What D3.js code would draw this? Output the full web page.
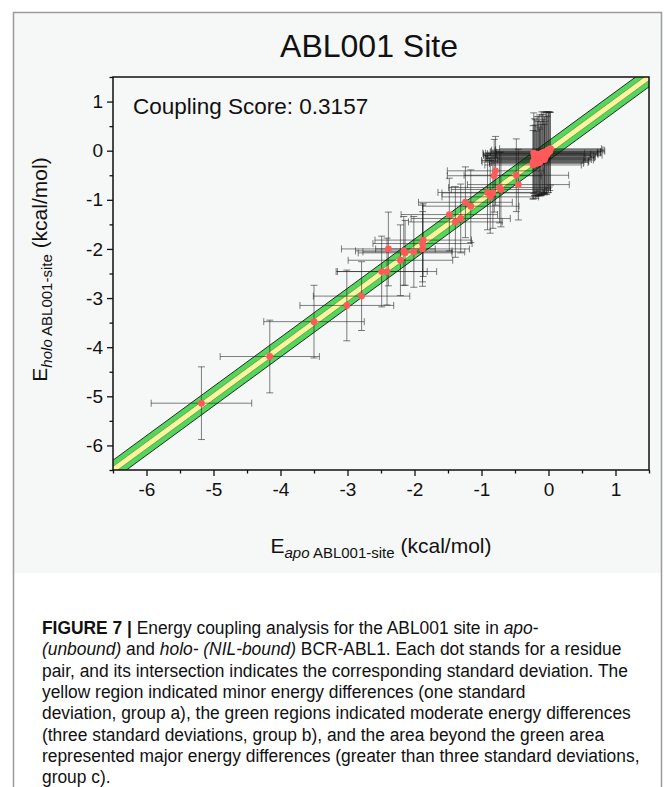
<!DOCTYPE html>
<html>
<head>
<meta charset="utf-8">
<script src="https://cdnjs.cloudflare.com/ajax/libs/d3/7.8.5/d3.min.js"></script>
<style>
  body { margin: 0; background: #fff; }
  svg { display: block; }
  text { font-family: "Liberation Sans", Arial, sans-serif; fill: #111; }
</style>
</head>
<body>
<svg width="665" height="787"></svg>
<script>
// energies of each residue pair (kcal/mol), apo vs holo, with their std devs
var apoE = [-5.18, -4.16, -3.50, -3.01, -2.79, -2.49, -2.41, -2.39, -2.21, -2.16,
  -2.14, -2.01, -1.88, -1.87, -1.88, -1.48, -1.39, -1.31, -1.24, -1.16,
  -0.91, -0.87, -0.83, -0.79, -0.81, -0.73, -0.71, -0.48, -0.45,
  -0.23, -0.23, -0.21, -0.20, -0.18, -0.16, -0.15, -0.14, -0.13, -0.12,
  -0.11, -0.10, -0.09, -0.08, -0.07, -0.06, -0.05, -0.04, -0.03, -0.02,
  -0.01, 0.00, 0.01, 0.03, -0.19, -0.17, -0.13, -0.06, 0.02, -0.22];
var holoE = [-5.14, -4.19, -3.48, -3.15, -2.96, -2.46, -2.46, -2.00, -2.23, -2.04,
  -2.08, -2.06, -1.89, -1.82, -2.00, -1.30, -1.45, -1.38, -1.05, -1.13,
  -0.85, -0.94, -0.86, -0.41, -0.51, -0.75, -0.79, -0.50, -0.69,
  -0.29, -0.23, -0.13, -0.20, -0.26, -0.16, -0.10, -0.22, -0.09, -0.15,
  -0.19, -0.05, -0.06, -0.12, -0.03, -0.09, -0.14, -0.02, -0.05, -0.08,
  0.01, -0.03, 0.02, 0.04, -0.17, -0.07, -0.24, -0.18, -0.01, -0.05];
var apoSD = [0.75, 0.74, 0.75, 0.70, 0.72, 0.68, 0.74, 0.70, 0.78, 0.72,
  0.70, 0.76, 0.74, 0.72, 0.70, 0.72, 0.70, 0.74, 0.70, 0.72,
  0.74, 0.72, 0.76, 0.72, 0.70, 0.76, 0.74, 0.78, 0.76,
  0.72, 0.76, 0.74, 0.80, 0.70, 0.78, 0.82, 0.74, 0.76, 0.80,
  0.78, 0.84, 0.82, 0.78, 0.80, 0.86, 0.74, 0.82, 0.80, 0.76,
  0.84, 0.78, 0.80, 0.76, 0.74, 0.80, 0.72, 0.70, 0.82, 0.76];
var holoSD = [0.74, 0.74, 0.74, 0.72, 0.70, 0.72, 0.68, 0.75, 0.72, 0.70,
  0.66, 0.72, 0.78, 0.74, 0.76, 0.74, 0.72, 0.70, 0.72, 0.74,
  0.76, 0.74, 0.72, 0.70, 0.74, 0.72, 0.76, 0.74, 0.72,
  0.70, 0.74, 0.78, 0.72, 0.66, 0.76, 0.80, 0.70, 0.82, 0.74,
  0.72, 0.84, 0.80, 0.76, 0.82, 0.78, 0.74, 0.80, 0.84, 0.78,
  0.78, 0.82, 0.76, 0.74, 0.80, 0.76, 0.68, 0.72, 0.80, 0.82];

var majorTicks = [-6, -5, -4, -3, -2, -1, 0, 1];
var minorTicks = [-6.5, -5.5, -4.5, -3.5, -2.5, -1.5, -0.5, 0.5, 1.5];
var bandGreen = 0.2, bandYellow = 0.07;   // 3 sd and 1 sd half widths

var titleText = "ABL001 Site";
var scoreText = "Coupling Score: 0.3157";

var caption = [
  [["FIGURE 7 | ", "b"], ["Energy coupling analysis for the ABL001 site in ", ""], ["apo-", "i"]],
  [["(unbound)", "i"], [" and ", ""], ["holo- (NIL-bound)", "i"], [" BCR-ABL1. Each dot stands for a residue", ""]],
  [["pair, and its intersection indicates the corresponding standard deviation. The", ""]],
  [["yellow region indicated minor energy differences (one standard", ""]],
  [["deviation, group a), the green regions indicated moderate energy differences", ""]],
  [["(three standard deviations, group b), and the area beyond the green area", ""]],
  [["represented major energy differences (greater than three standard deviations,", ""]],
  [["group c).", ""]]
];

var svg = d3.select("svg");
var pL = 113, pR = 649, pT = 77, pB = 470;

// figure frame + chart background
svg.append("rect").attr("x", 14).attr("y", 13).attr("width", 647).attr("height", 560)
  .attr("fill", "#f6f7f7");
svg.append("rect").attr("x", 13.5).attr("y", 12.5).attr("width", 648).attr("height", 800)
  .attr("fill", "none").attr("stroke", "#9b9b9b").attr("stroke-width", 1.5);

var x = d3.scaleLinear().domain([-6.5, 1.5]).range([pL, pR]);
var y = d3.scaleLinear().domain([-6.5, 1.5]).range([pB, pT]);

svg.append("clipPath").attr("id", "plotclip")
  .append("rect").attr("x", pL).attr("y", pT).attr("width", pR - pL).attr("height", pB - pT);

var plot = svg.append("g").attr("clip-path", "url(#plotclip)");

function band(d) {
  var lo = -8, hi = 3;
  return [[x(lo), y(lo + d)], [x(hi), y(hi + d)], [x(hi), y(hi - d)], [x(lo), y(lo - d)]]
    .map(function(p) { return p.join(","); }).join(" ");
}
plot.append("polygon").attr("points", band(bandGreen))
  .attr("fill", "#52d65c").attr("stroke", "#1a1a1a").attr("stroke-width", 0.9);
plot.append("polygon").attr("points", band(bandYellow))
  .attr("fill", "#faf59c").attr("stroke", "#5a7a4a").attr("stroke-width", 0.6);

// error bars
var cap = 3.5;
var bars = plot.append("g").attr("stroke", "#1a1a1a").attr("stroke-opacity", 0.55).attr("stroke-width", 1);
apoE.forEach(function(a, i) {
  var h = holoE[i], ex = apoSD[i], ey = holoSD[i];
  var g = bars.append("g");
  g.append("line").attr("x1", x(a - ex)).attr("x2", x(a + ex)).attr("y1", y(h)).attr("y2", y(h));
  g.append("line").attr("x1", x(a - ex)).attr("x2", x(a - ex)).attr("y1", y(h) - cap).attr("y2", y(h) + cap);
  g.append("line").attr("x1", x(a + ex)).attr("x2", x(a + ex)).attr("y1", y(h) - cap).attr("y2", y(h) + cap);
  g.append("line").attr("x1", x(a)).attr("x2", x(a)).attr("y1", y(h - ey)).attr("y2", y(h + ey));
  g.append("line").attr("x1", x(a) - cap).attr("x2", x(a) + cap).attr("y1", y(h - ey)).attr("y2", y(h - ey));
  g.append("line").attr("x1", x(a) - cap).attr("x2", x(a) + cap).attr("y1", y(h + ey)).attr("y2", y(h + ey));
});

plot.append("g").selectAll("circle")
  .data(apoE)
  .enter().append("circle")
  .attr("cx", function(d) { return x(d); })
  .attr("cy", function(d, i) { return y(holoE[i]); })
  .attr("r", 3.4)
  .attr("fill", "#ff5a5a");

// axes
var fmt = function(d) { return String(d); };
function styleAxis(g) {
  g.select(".domain").remove();
  g.selectAll("line").attr("stroke", "#111").attr("stroke-width", 1.3);
  g.selectAll("text").attr("font-size", 19).attr("fill", "#111")
    .style("font-family", '"Liberation Sans", Arial, sans-serif');
}
svg.append("g").attr("transform", "translate(0," + pB + ")")
  .call(d3.axisBottom(x).tickValues(minorTicks).tickSize(3.5).tickFormat("")).call(styleAxis);
svg.append("g").attr("transform", "translate(0," + pB + ")")
  .call(d3.axisBottom(x).tickValues(majorTicks).tickSize(6).tickPadding(7).tickFormat(fmt)).call(styleAxis);
svg.append("g").attr("transform", "translate(" + pL + ",0)")
  .call(d3.axisLeft(y).tickValues(minorTicks).tickSize(3.5).tickFormat("")).call(styleAxis);
svg.append("g").attr("transform", "translate(" + pL + ",0)")
  .call(d3.axisLeft(y).tickValues(majorTicks).tickSize(6).tickPadding(4).tickFormat(fmt)).call(styleAxis);

svg.append("rect").attr("x", pL).attr("y", pT).attr("width", pR - pL).attr("height", pB - pT)
  .attr("fill", "none").attr("stroke", "#111").attr("stroke-width", 1.5);

// titles
svg.append("text").attr("x", 369).attr("y", 57).attr("text-anchor", "middle")
  .attr("font-size", 32).text(titleText);
svg.append("text").attr("x", 133).attr("y", 114).attr("font-size", 22.5).text(scoreText);

function axisLabel(sel, sub) {
  sel.append("tspan").text("E");
  sel.append("tspan").attr("font-size", 15).attr("font-style", "italic").attr("dy", 5).text(sub);
  sel.append("tspan").attr("font-size", 15).text(" ABL001-site");
  sel.append("tspan").attr("dy", -5).text(" (kcal/mol)");
}
svg.append("text").attr("x", (pL + pR) / 2).attr("y", 553).attr("text-anchor", "middle")
  .attr("font-size", 21).call(axisLabel, "apo");
svg.append("text").attr("transform", "translate(47," + ((pT + pB) / 2 - 4) + ") rotate(-90)")
  .attr("text-anchor", "middle").attr("font-size", 21).call(axisLabel, "holo");

// caption
var capG = svg.append("g");
var lines = caption.map(function(segs) {
  var t = capG.append("text").attr("font-size", 18).attr("fill", "#222");
  segs.forEach(function(s) {
    var ts = t.append("tspan").text(s[0]);
    if (s[1] === "b") ts.attr("font-weight", "bold");
    if (s[1] === "i") ts.attr("font-style", "italic");
  });
  return t;
});
var k = 586 / lines[2].node().getComputedTextLength();
lines.forEach(function(t, i) {
  t.attr("transform", "translate(42," + (634 + i * 21.3) + ") scale(" + k + ",1)");
});
</script>
</body>
</html>
